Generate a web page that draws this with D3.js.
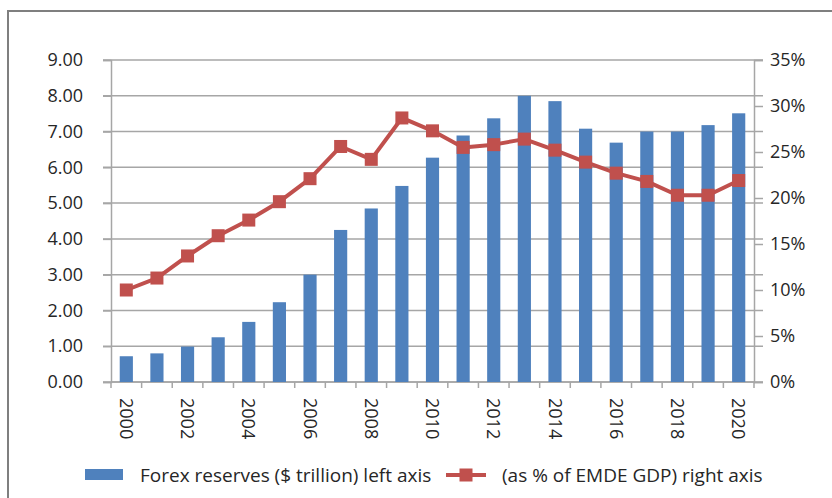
<!DOCTYPE html>
<html>
<head>
<meta charset="utf-8">
<script src="https://cdn.jsdelivr.net/npm/d3@7"></script>
<style>
  html, body { margin: 0; background: #fff; overflow: hidden; }
  svg { display: block; }
  text { font-family: "Open Sans", Lato, sans-serif; fill: #262626; }
</style>
</head>
<body>
<div id="chart"></div>
<script>
const years = d3.range(2000, 2021);
const reserves = [0.72, 0.80, 0.99, 1.25, 1.68, 2.23, 3.00, 4.25, 4.85, 5.48, 6.27,
  6.89, 7.37, 8.00, 7.85, 7.08, 6.69, 7.00, 7.00, 7.18, 7.51];
const shareOfGdp = [10.0, 11.3, 13.7, 15.9, 17.6, 19.6, 22.1, 25.6, 24.2, 28.7, 27.3,
  25.5, 25.8, 26.4, 25.2, 23.9, 22.7, 21.8, 20.3, 20.3, 21.9];
const leftTicks = [0, 1, 2, 3, 4, 5, 6, 7, 8, 9];
const rightTicks = [0, 5, 10, 15, 20, 25, 30, 35];
const legendLabels = ['Forex reserves ($ trillion) left axis', '(as % of EMDE GDP) right axis'];

const W = 832, H = 498;
const margin = { top: 60, right: 78, bottom: 116, left: 111 };
const width = W - margin.left - margin.right;
const height = H - margin.top - margin.bottom;

const blue = '#4f81bd';
const red = '#c0504d';
const grid = '#a6a6a6';
const fontSize = '18px';

const svg = d3.select('#chart').append('svg')
    .attr('width', W)
    .attr('height', H);

// outer frame: only left and top edges are visible in the source
svg.append('path')
    .attr('d', `M8,${H}V11H${W}`)
    .attr('fill', 'none')
    .attr('stroke', '#7f7f7f')
    .attr('stroke-width', 2);

const g = svg.append('g')
    .attr('transform', `translate(${margin.left},${margin.top})`);

const x = d3.scaleBand()
    .domain(years)
    .range([0, width])
    .paddingInner(0.57)
    .paddingOuter(0.285);

const xEdge = d3.scaleLinear()
    .domain([0, years.length])
    .range([0, width]);

const yLeft = d3.scaleLinear().domain([0, 9]).range([height, 0]);
const yRight = d3.scaleLinear().domain([0, 35]).range([height, 0]);

// gridlines with outside tick marks on both sides
g.append('g')
  .selectAll('line')
  .data(leftTicks)
  .join('line')
    .attr('x1', -8)
    .attr('x2', width + 9)
    .attr('y1', (d) => yLeft(d))
    .attr('y2', (d) => yLeft(d))
    .attr('stroke', grid)
    .attr('stroke-width', 1.5);

// left axis
const leftAxis = g.append('g')
    .call(d3.axisLeft(yLeft).tickValues(leftTicks).tickFormat(d3.format('.2f')).tickSize(8).tickPadding(20));
leftAxis.select('.domain').attr('stroke', grid).attr('stroke-width', 1.5);
leftAxis.selectAll('.tick line').attr('stroke', grid).attr('stroke-width', 1.5);
leftAxis.selectAll('.tick text').style('font-size', fontSize).attr('fill', '#262626');

// right axis
const rightAxis = g.append('g')
    .attr('transform', `translate(${width},0)`)
    .call(d3.axisRight(yRight).tickValues(rightTicks).tickFormat((d) => `${d}%`).tickSize(9).tickPadding(7));
rightAxis.select('.domain').attr('stroke', grid).attr('stroke-width', 1.5);
rightAxis.selectAll('.tick line').attr('stroke', grid).attr('stroke-width', 1.5);
rightAxis.selectAll('.tick text').style('font-size', fontSize).attr('fill', '#262626');

// x axis: ticks on category boundaries, labels every other year
const xAxis = g.append('g')
    .attr('transform', `translate(0,${height})`);
xAxis.append('line')
    .attr('x1', 0).attr('x2', width)
    .attr('stroke', grid).attr('stroke-width', 1.5);
xAxis.selectAll('.xtick')
  .data(d3.range(years.length + 1))
  .join('line')
    .attr('class', 'xtick')
    .attr('x1', (d) => xEdge(d))
    .attr('x2', (d) => xEdge(d))
    .attr('y1', 0)
    .attr('y2', 6)
    .attr('stroke', grid)
    .attr('stroke-width', 1.5);
xAxis.selectAll('.xlabel')
  .data(years.filter((d) => d % 2 === 0))
  .join('text')
    .attr('class', 'xlabel')
    .attr('transform', (d) => `translate(${x(d) + x.bandwidth() / 2},16) rotate(90)`)
    .attr('dy', '0.35em')
    .style('font-size', fontSize)
    .text((d) => d);

// bars
g.selectAll('.bar')
  .data(years)
  .join('rect')
    .attr('class', 'bar')
    .attr('x', (d) => x(d))
    .attr('width', x.bandwidth())
    .attr('y', (d, i) => yLeft(reserves[i]))
    .attr('height', (d, i) => height - yLeft(reserves[i]))
    .attr('fill', blue);

// line + square markers
const line = d3.line()
    .x((d, i) => x(years[i]) + x.bandwidth() / 2)
    .y((d) => yRight(d));

g.append('path')
    .datum(shareOfGdp)
    .attr('d', line)
    .attr('fill', 'none')
    .attr('stroke', red)
    .attr('stroke-width', 4)
    .attr('stroke-linejoin', 'round');

const ms = 13;
g.selectAll('.marker')
  .data(shareOfGdp)
  .join('rect')
    .attr('class', 'marker')
    .attr('x', (d, i) => x(years[i]) + x.bandwidth() / 2 - ms / 2)
    .attr('y', (d) => yRight(d) - ms / 2)
    .attr('width', ms)
    .attr('height', ms)
    .attr('fill', red);

// legend
const legend = svg.append('g').attr('transform', 'translate(0,475)');
legend.append('rect')
    .attr('x', 85).attr('y', -6)
    .attr('width', 38).attr('height', 11)
    .attr('fill', blue);
legend.append('text')
    .attr('x', 140).attr('dy', '0.35em')
    .style('font-size', '19px')
    .text(legendLabels[0]);
legend.append('line')
    .attr('x1', 446).attr('x2', 486)
    .attr('stroke', red).attr('stroke-width', 4);
legend.append('rect')
    .attr('x', 466 - ms / 2).attr('y', -ms / 2)
    .attr('width', ms).attr('height', ms)
    .attr('fill', red);
legend.append('text')
    .attr('x', 502).attr('dy', '0.35em')
    .style('font-size', '19px')
    .text(legendLabels[1]);
</script>
</body>
</html>
